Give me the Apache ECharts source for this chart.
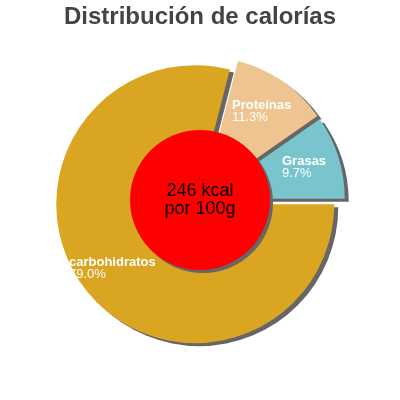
<!DOCTYPE html>
<html>
<head>
<meta charset="utf-8">
<script src="https://cdn.jsdelivr.net/npm/echarts@6/dist/echarts.min.js"></script>
<style>
  html, body { margin: 0; padding: 0; background: #fff; }
  #chart { width: 400px; height: 400px; }
</style>
</head>
<body>
<div id="chart"></div>
<script>
// datos del gráfico
var titleText = "Distribución de calorías";
var names = ["Proteínas", "Grasas", "carbohidratos"];
var percents = [11.3, 9.7, 79.0];
var colors = ["#eec591", "#7ac5cd", "#daa520"];
var centerText = "246 kcal\npor 100g";

// posiciones de las etiquetas (esquina superior izquierda)
var labelPos = [[232, 99], [282, 155], [69, 256]];
var explode = 6;

var slices = [];
for (var i = 0; i < names.length; i++) {
  slices.push({
    name: names[i],
    value: percents[i],
    selected: true,
    itemStyle: { color: colors[i] }
  });
}

// el primer sector empieza donde terminan proteínas + grasas
var startAngle = 360 * (percents[0] + percents[1]) / 100;

// desplazamiento de cada sector separado (la etiqueta se mueve con él)
var shifts = [];
var acc = startAngle;
for (var j = 0; j < percents.length; j++) {
  var span = 360 * percents[j] / 100;
  var mid = (acc - span / 2) * Math.PI / 180;
  shifts.push([Math.cos(mid) * explode, -Math.sin(mid) * explode]);
  acc -= span;
}

var myChart = echarts.init(document.getElementById("chart"));
var option = {
  animation: false,
  textStyle: { fontFamily: "Liberation Sans, Arial, sans-serif" },
  title: {
    text: titleText,
    left: "center",
    top: 0,
    textStyle: { fontSize: 24, fontWeight: "bold", color: "#444" }
  },
  series: [
    {
      type: "pie",
      center: [200, 200.5],
      radius: [0, 139],
      startAngle: startAngle,
      clockwise: true,
      selectedMode: "multiple",
      selectedOffset: explode,
      silent: true,
      avoidLabelOverlap: false,
      z: 2,
      itemStyle: {
        borderWidth: 0,
        shadowColor: "#666",
        shadowBlur: 0,
        shadowOffsetX: 4,
        shadowOffsetY: 3
      },
      label: {
        show: true,
        position: "inside",
        formatter: function (p) {
          return "{n|" + p.name + "}\n{p|" + p.value.toFixed(1) + "%}";
        },
        rich: {
          n: { fontSize: 13, fontWeight: "bold", color: "#fff", lineHeight: 12, align: "left" },
          p: { fontSize: 13, color: "#fff", lineHeight: 12, align: "left" }
        }
      },
      labelLine: { show: false },
      labelLayout: function (params) {
        var pos = labelPos[params.dataIndex];
        var s = shifts[params.dataIndex];
        return {
          dx: pos[0] - s[0] - params.labelRect.x,
          dy: pos[1] - s[1] - params.labelRect.y,
          hideOverlap: false
        };
      },
      data: slices
    },
    {
      type: "pie",
      center: [200, 200],
      radius: [0, 70],
      silent: true,
      z: 3,
      itemStyle: {
        color: "#ff0000",
        shadowColor: "#666",
        shadowBlur: 0,
        shadowOffsetX: 3,
        shadowOffsetY: 3
      },
      label: {
        show: true,
        position: "center",
        fontSize: 18,
        lineHeight: 18,
        color: "#000",
        formatter: function () { return centerText; }
      },
      labelLine: { show: false },
      data: [{ value: 1, name: "centro" }]
    }
  ]
};
myChart.setOption(option);
</script>
</body>
</html>
